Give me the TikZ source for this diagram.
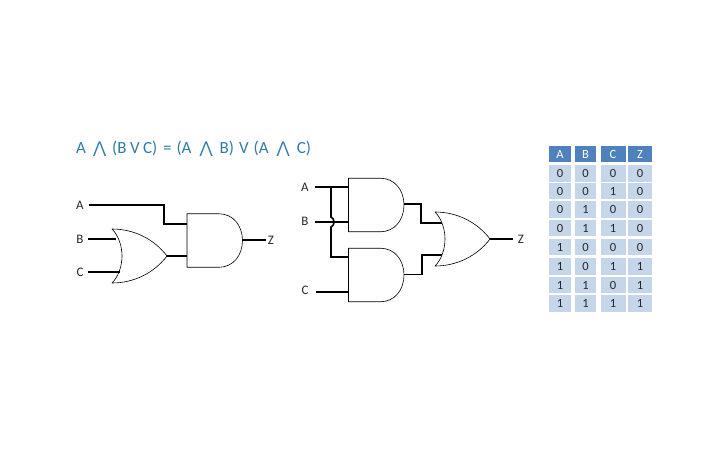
\documentclass[tikz,border=0pt]{standalone}
\usepackage{fontspec}
\setmainfont{Carlito}
\newfontfamily\symfont{DejaVu Sans}
\definecolor{headblue}{HTML}{4F81BD}
\definecolor{rowblue}{HTML}{C6D6EA}
\definecolor{eqblue}{HTML}{2E7CA6}
\newcommand{\wdg}{{\symfont\fontsize{16}{16}\selectfont ⋀}}
\tikzset{
  wire/.style={line width=1.6pt,black,line join=miter},
  gateline/.style={draw=black,fill=white,line width=0.6pt,line join=round},
  lbl/.style={font=\fontsize{13}{15}\selectfont,text=black!85,inner sep=0pt},
  headcell/.style={fill=headblue,text=white,minimum height=16pt,inner sep=0pt,font=\fontsize{12.5}{14}\selectfont},
  rowcell/.style={fill=rowblue,text=black!85,minimum height=16.5pt,inner sep=0pt,font=\fontsize{12.5}{14}\selectfont},
  pics/andgate/.style={code={
    \path[gateline] (0,-26.75) -- (32,-26.75) .. controls (46,-26.75) and (55.5,-15) .. (55.5,0)
       .. controls (55.5,15) and (46,26.75) .. (32,26.75) -- (0,26.75) -- cycle;
  }},
  pics/orgate/.style={code={
    \path[gateline] (0,-27) .. controls (22,-27) and (42,-17) .. (55,0)
       .. controls (42,17) and (22,27) .. (0,27)
       .. controls (7,20) and (10,9) .. (10,0)
       .. controls (10,-9) and (7,-20) .. (0,-27) -- cycle;
  }},
}
\begin{document}
\begin{tikzpicture}[x=1pt,y=-1pt]
\useasboundingbox (0,0) rectangle (720,450);
% equation
\node[anchor=west,inner sep=0pt,text=eqblue,font=\fontsize{17}{20}\selectfont] (eq) at (76,149)
  {A\hspace{7pt}\wdg\hspace{6pt}(B\hspace{3.5pt}V\hspace{3.5pt}C)\hspace{2pt} = \hspace{1pt}(A\hspace{8pt}\wdg\hspace{7pt}B)\hspace{5pt}V\hspace{5pt}(A\hspace{8pt}\wdg\hspace{7pt}C)};
% left circuit
\node[lbl] (la) at (80,205) {A};
\node[lbl] (lb) at (80,239) {B};
\node[lbl] (lc) at (80,272) {C};
\node[lbl] (lz) at (271,240) {Z};
\coordinate (las) at (89,205);
\coordinate (lbs) at (88,239);
\coordinate (lcs) at (88,272);
\coordinate (la1) at (164,205);
\coordinate (la2) at (164,224);
\coordinate (landa) at (187,224);
\coordinate (landb) at (187,256);
\coordinate (lorb) at (116,239);
\coordinate (lorc) at (120,272);
\coordinate (lorout) at (167,256);
\coordinate (landout) at (242,240);
\coordinate (lze) at (266,240);
\draw[wire] (las) -- (la1) -- (la2) -- (landa);
\draw[wire] (lorout) -- (landb);
\draw[wire] (landout) -- (lze);
\pic at (112,256) {orgate};
\pic at (187,240.5) {andgate};
\draw[wire] (lbs) -- (lorb);
\draw[wire] (lcs) -- (lorc);
% right circuit
\node[lbl] (ra) at (305,187) {A};
\node[lbl] (rb) at (305,221) {B};
\node[lbl] (rc) at (305,290) {C};
\node[lbl] (rz) at (521,239) {Z};
\coordinate (ras) at (315,187);
\coordinate (rbs) at (315,222);
\coordinate (rcs) at (316,292);
\coordinate (rze) at (513,239);
\coordinate (ra1) at (349,187);
\coordinate (rb1) at (349,222);
\coordinate (ra2) at (349,257);
\coordinate (rc1) at (349,292);
\coordinate (vtop) at (331,187);
\coordinate (hopa) at (331,217);
\coordinate (hopb) at (331,227);
\coordinate (vbot) at (331,257);
\coordinate (aout1) at (404,204);
\coordinate (aout2) at (404,274.5);
\coordinate (m1a) at (421,204);
\coordinate (m1b) at (421,223);
\coordinate (or1) at (443,223);
\coordinate (m2a) at (422,274.5);
\coordinate (m2b) at (422,255);
\coordinate (or2) at (443,255);
\coordinate (orout) at (490,239);
\draw[wire] (ras) -- (ra1);
\draw[wire] (vtop) -- (hopa) .. controls (335,218.5) and (335,225.5) .. (hopb) -- (vbot) -- (ra2);
\draw[wire] (rbs) -- (rb1);
\draw[wire] (rcs) -- (rc1);
\draw[wire] (aout1) -- (m1a) -- (m1b) -- (or1);
\draw[wire] (aout2) -- (m2a) -- (m2b) -- (or2);
\draw[wire] (orout) -- (rze);
\pic at (348.5,205) {andgate};
\pic at (348.5,275) {andgate};
\pic at (435,239) {orgate};
% table
\foreach \nm/\x/\w/\t in {a/560/22/A,b/585.5/21/B,c/613/25/C,z/640/24/Z}{
  \node[headcell,minimum width=\w pt] (h\nm) at (\x,154) {\t};
}
\foreach \r/\y/\va/\vb/\vc/\vz in {1/173.5/0/0/0/0,2/191/0/0/1/0,3/209.5/0/1/0/0,4/228/0/1/1/0,5/247/1/0/0/0,6/266.5/1/0/1/1,7/285/1/1/0/1,8/303.5/1/1/1/1}{
  \node[rowcell,minimum width=22pt] (a\r) at (560,\y) {\va};
  \node[rowcell,minimum width=21pt] (b\r) at (585.5,\y) {\vb};
  \node[rowcell,minimum width=25pt] (c\r) at (613,\y) {\vc};
  \node[rowcell,minimum width=24pt] (z\r) at (640,\y) {\vz};
}
\end{tikzpicture}
\end{document}
